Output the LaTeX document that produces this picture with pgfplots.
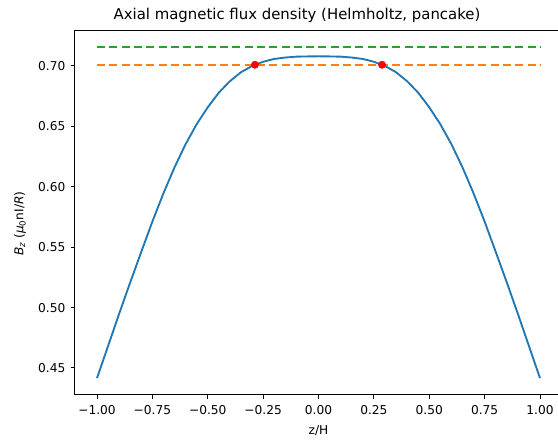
\documentclass[border=0pt]{standalone}
\usepackage{fontspec}
\setmainfont{DejaVu Sans}
\usepackage{pgfplots}
\pgfplotsset{compat=1.18}
\definecolor{mplblue}{HTML}{1F77B4}
\definecolor{mplorange}{HTML}{FF7F0E}
\definecolor{mplgreen}{HTML}{2CA02C}
\pgfplotstableread{
z B
-1.00 0.4416
-0.95 0.4682
-0.90 0.4949
-0.85 0.5209
-0.80 0.5462
-0.75 0.5712
-0.70 0.5946
-0.65 0.6161
-0.60 0.6353
-0.55 0.6518
-0.50 0.6658
-0.45 0.6779
-0.40 0.6874
-0.35 0.6948
-0.30 0.7000
-0.25 0.7035
-0.20 0.7058
-0.15 0.7070
-0.10 0.7077
-0.05 0.7079
0.00 0.7080
0.05 0.7079
0.10 0.7077
0.15 0.7070
0.20 0.7058
0.25 0.7035
0.30 0.7000
0.35 0.6948
0.40 0.6874
0.45 0.6779
0.50 0.6658
0.55 0.6518
0.60 0.6353
0.65 0.6161
0.70 0.5946
0.75 0.5712
0.80 0.5462
0.85 0.5209
0.90 0.4949
0.95 0.4682
1.00 0.4416
}\curve
\begin{document}
\begin{tikzpicture}[x=1pt,y=1pt]
\begin{axis}[
  name=ax, at={(74.85pt,47.3pt)}, anchor=south west,
  scale only axis, width=487.3pt, height=364pt,
  xmin=-1.1, xmax=1.1, ymin=0.4279, ymax=0.7292,
  axis line style={line width=1pt},
  tick align=outside, major tick length=4.3pt,
  every tick/.style={black, line width=1pt},
  xtick pos=bottom, ytick pos=left,
  xtick={-1,-0.75,-0.5,-0.25,0,0.25,0.5,0.75,1},
  xticklabels={−1.00,−0.75,−0.50,−0.25,0.00,0.25,0.50,0.75,1.00},
  ytick={0.45,0.5,0.55,0.6,0.65,0.7},
  yticklabels={0.45,0.50,0.55,0.60,0.65,0.70},
  ticklabel style={font=\fontsize{12.2}{14}\selectfont, inner sep=0pt},
  xticklabel style={anchor=north, yshift=-6pt},
  yticklabel style={anchor=east, xshift=-5pt},
  every axis title shift=0pt,
  title={Axial magnetic flux density (Helmholtz, pancake)},
  title style={at={(axis description cs:0.4559,1.0294)}, anchor=base, inner sep=0pt, font=\fontsize{14.9}{17}\selectfont},
  xlabel={z/H},
  xlabel style={at={(axis description cs:0.5,-0.1107)}, anchor=base, inner sep=0pt, font=\fontsize{12.2}{14}\selectfont},
  ylabel={{\itshape B}\textsubscript{\itshape z} ({\itshape μ}\textsubscript{0}nI/{\itshape R})},
  ylabel style={at={(axis description cs:-0.1126,0.47)}, anchor=center, inner sep=0pt, font=\fontsize{12.2}{14}\selectfont},
]
\addplot[mplblue, line width=1.86pt] table[x=z, y=B] {\curve};
\addplot[mplgreen, line width=1.86pt, dash pattern=on 8pt off 4.3pt] coordinates {(-1,0.7155) (1,0.7155)};
\addplot[mplorange, line width=1.86pt, dash pattern=on 8pt off 4.3pt] coordinates {(-1,0.7010) (1,0.7010)};
\addplot[only marks, mark=*, mark size=3.7pt, mark options={draw=red, fill=red}] coordinates {(-0.287,0.7010) (0.287,0.7010)};
\end{axis}
\pgfresetboundingbox
\path[use as bounding box] (0,0) rectangle (558,442);
\end{tikzpicture}
\end{document}
